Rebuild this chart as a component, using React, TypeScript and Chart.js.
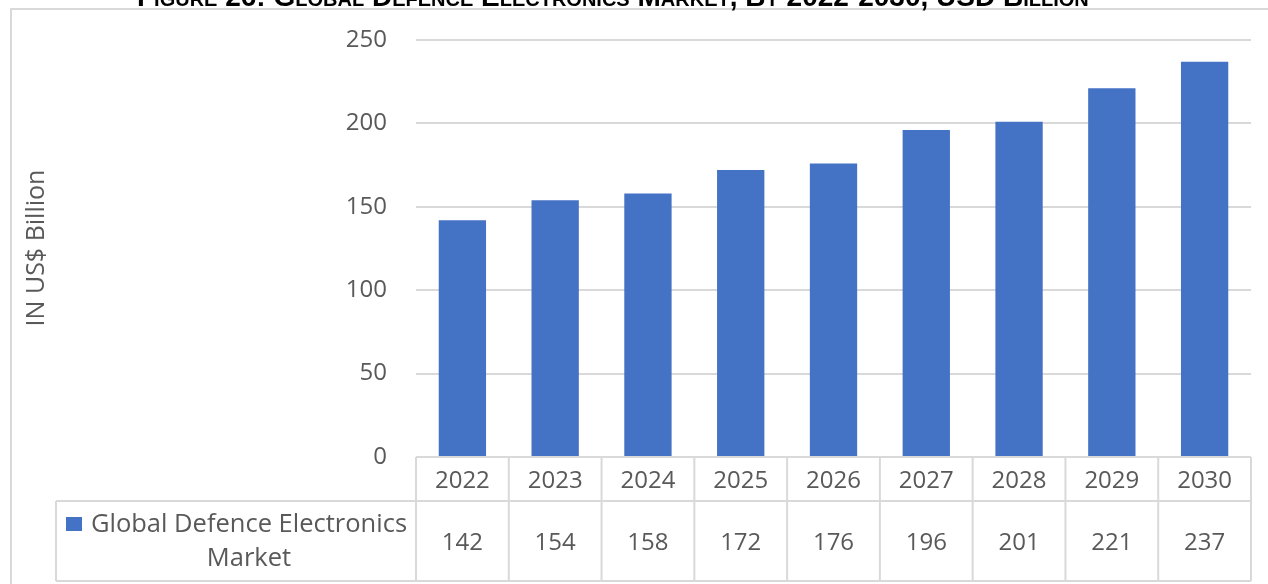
import React, { useEffect, useRef } from "react";
import { Chart, registerables } from "chart.js";

Chart.register(...registerables);

// Market size by year, US$ billion
const years = ["2022", "2023", "2024", "2025", "2026", "2027", "2028", "2029", "2030"];
const marketValues = [142, 154, 158, 172, 176, 196, 201, 221, 237];
const yTicks = [0, 50, 100, 150, 200, 250];
const seriesName = ["Global Defence Electronics", "Market"];
const chartTitle = "Figure 26: Global Defence Electronics Market, By 2022-2030, USD Billion";
const yAxisTitle = "IN US$ Billion";

const BAR = "#4472C4";
const GRID = "#d9d9d9";
const TEXT = "#595959";
const FONT = "'Open Sans', sans-serif";

// Draws the frame, cut-off heading, rotated axis title and the data table under the bars
const tablePlugin = {
  id: "dataTable",
  afterDraw(chart: any) {
    const ctx = chart.ctx as CanvasRenderingContext2D;
    const x = chart.scales.x;
    const area = chart.chartArea;
    const n = years.length;
    const colW = (area.right - area.left) / n;
    const tableTop = area.bottom;
    const rowSplit = tableTop + 44;
    const tableBottom = tableTop + 124;
    const legendLeft = 56;

    ctx.save();

    // outer frame
    ctx.strokeStyle = GRID;
    ctx.lineWidth = 2;
    ctx.strokeRect(11, 9, 1400, 800);

    // heading (partly above the canvas)
    ctx.fillStyle = "#000";
    ctx.font = "small-caps bold 28px 'Liberation Sans', Arial, sans-serif";
    ctx.textAlign = "left";
    ctx.textBaseline = "alphabetic";
    ctx.fillText(chartTitle, 137, 6);

    // y axis title
    ctx.save();
    ctx.translate(37, 248);
    ctx.rotate(-Math.PI / 2);
    ctx.fillStyle = TEXT;
    ctx.font = `25px ${FONT}`;
    ctx.textAlign = "center";
    ctx.textBaseline = "middle";
    ctx.fillText(yAxisTitle, 0, 0);
    ctx.restore();

    // table grid
    ctx.strokeStyle = GRID;
    ctx.lineWidth = 2;
    ctx.beginPath();
    ctx.moveTo(area.left, tableTop);
    ctx.lineTo(area.right, tableTop);
    ctx.moveTo(legendLeft, rowSplit);
    ctx.lineTo(area.right, rowSplit);
    ctx.moveTo(legendLeft, tableBottom);
    ctx.lineTo(area.right, tableBottom);
    ctx.moveTo(legendLeft, rowSplit);
    ctx.lineTo(legendLeft, tableBottom);
    for (let i = 0; i <= n; i++) {
      const px = area.left + i * colW;
      ctx.moveTo(px, tableTop);
      ctx.lineTo(px, tableBottom);
    }
    ctx.stroke();

    // year labels and values
    ctx.fillStyle = TEXT;
    ctx.font = `24px ${FONT}`;
    ctx.textAlign = "center";
    ctx.textBaseline = "middle";
    years.forEach((yr, i) => {
      const cx = x.getPixelForValue(i);
      ctx.fillText(yr, cx, (tableTop + rowSplit) / 2 + 2);
      ctx.fillText(String(marketValues[i]), cx, (rowSplit + tableBottom) / 2 + 2);
    });

    // legend key
    ctx.fillStyle = BAR;
    ctx.fillRect(66, 517, 16, 14);
    ctx.fillStyle = TEXT;
    ctx.font = `25.5px ${FONT}`;
    ctx.textAlign = "center";
    ctx.fillText(seriesName[0], 249, 525);
    ctx.fillText(seriesName[1], 249, 559);

    ctx.restore();
  },
};

export default function App() {
  const canvasRef = useRef<HTMLCanvasElement | null>(null);

  useEffect(() => {
    const canvas = canvasRef.current;
    if (!canvas) return;
    Chart.defaults.font.family = FONT;
    const chart = new Chart(canvas, {
      type: "bar",
      data: {
        labels: years,
        datasets: [
          {
            label: seriesName.join(" "),
            data: marketValues,
            backgroundColor: BAR,
            borderWidth: 0,
            barPercentage: 0.51,
            categoryPercentage: 1,
          },
        ],
      },
      options: {
        responsive: false,
        animation: false,
        devicePixelRatio: 1,
        layout: { padding: { left: 0, top: 40, right: 17, bottom: 127 } },
        plugins: {
          legend: { display: false },
          tooltip: { enabled: false },
          title: { display: false },
        },
        scales: {
          x: { display: false },
          y: {
            min: 0,
            max: 250,
            afterFit: (s: any) => {
              s.width = 416;
              s.paddingTop = 0;
              s.paddingBottom = 0;
            },
            afterBuildTicks: (s: any) => {
              s.ticks = yTicks.map((v) => ({ value: v }));
            },
            border: { display: false },
            grid: { color: GRID, lineWidth: 2, drawTicks: false },
            ticks: {
              color: TEXT,
              padding: 29,
              font: { size: 24, family: FONT },
            },
          },
        },
      },
      plugins: [tablePlugin],
    });
    return () => chart.destroy();
  }, []);

  return (
    <div style={{ position: "fixed", left: 0, top: 0, width: 1268, height: 584, background: "#fff" }}>
      <canvas ref={canvasRef} width={1268} height={584} style={{ display: "block" }} />
    </div>
  );
}
